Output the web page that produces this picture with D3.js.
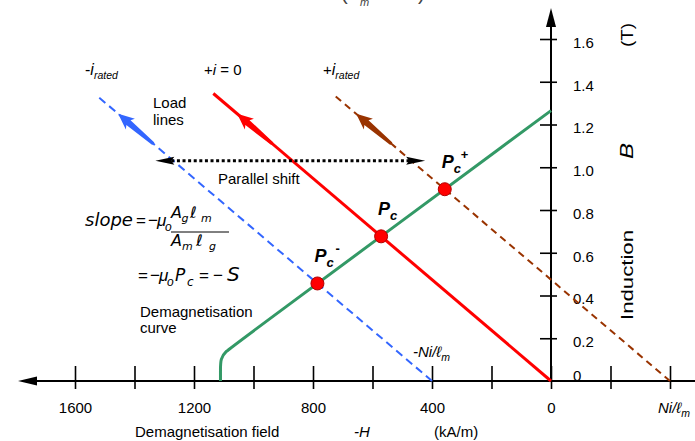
<!DOCTYPE html>
<html>
<head>
<meta charset="utf-8">
<script src="https://cdn.jsdelivr.net/npm/d3@7"></script>
<style>
  body { margin: 0; background: #fff; }
  svg { display: block; }
  text { font-family: "Liberation Sans", Arial, sans-serif; fill: #000; }
</style>
</head>
<body>
<svg id="chart" width="695" height="441"></svg>
<script>
// Demagnetising field H in kA/m (drawn positive to the left), induction B in tesla.
const hTicks = [1600, 1400, 1200, 1000, 800, 600, 400, 200, 0, -200, -400];
const hTickLabels = ["1600", "", "1200", "", "800", "", "400", "", "0", "", ""];
const bTicks = [0, 0.2, 0.4, 0.6, 0.8, 1.0, 1.2, 1.4, 1.6];
const bTickLabels = ["0", "0.2", "0.4", "0.6", "0.8", "1.0", "1.2", "1.4", "1.6"];

// Demagnetisation curve: straight recoil line, then a knee near the coercive field
const demagH = [0, 1060, 1094, 1111, 1111, 1111];
const demagB = [1.265, 0.173, 0.138, 0.105, 0.05, 0];
const demagRemanence = 1.265;      // B at H = 0 (T)
const demagSlope = 1.03e-3;        // T per kA/m along the straight part

// Load lines B = S (H - Ni/lm), shifted by the stator current
const loadSlope = 1.185e-3;        // S, T per kA/m
const loadKeys = ["minus", "zero", "plus"];
const loadOffsets = [400, 0, -400]; // H where each load line meets B = 0
const loadTopB = [1.34, 1.345, 1.34];
const pointNames = ["Pc-", "Pc", "Pc+"];

// Direction arrows on the load lines (B at tail and tip)
const arrowTailB = 1.11;
const arrowTipB = 1.25;

// Horizontal "parallel shift" double arrow
const shiftB = 1.03;
const shiftFromH = 1330;
const shiftToH = 423;

const lineStyle = {
  minus: { color: "#3366ff", width: 2, dash: "8,5" },
  zero:  { color: "#ff0000", width: 3, dash: null },
  plus:  { color: "#993300", width: 2, dash: "7,5" }
};
const demagColor = "#339966";

const svg = d3.select("#chart");

const x = d3.scaleLinear().domain([0, 1600]).range([551, 75]);
const y = d3.scaleLinear().domain([0, 1.6]).range([381, 39]);

// ---------- axes ----------
const xAxisG = svg.append("g").attr("transform", `translate(0,${y(0)})`)
  .call(d3.axisBottom(x).tickValues(hTicks)
    .tickFormat((d, i) => hTickLabels[i]).tickSize(8).tickPadding(13));
xAxisG.select(".domain").remove();
xAxisG.selectAll(".tick line").attr("y1", -15).attr("stroke", "#000").attr("stroke-width", 1.6);
xAxisG.selectAll(".tick text").attr("font-size", 15)
  .style("font-family", '"Liberation Sans", Arial, sans-serif');

const yAxisG = svg.append("g").attr("transform", `translate(${x(0)},0)`)
  .call(d3.axisRight(y).tickValues(bTicks)
    .tickFormat((d, i) => bTickLabels[i]).tickSize(6).tickPadding(16));
yAxisG.select(".domain").remove();
yAxisG.selectAll(".tick line").attr("x1", -11).attr("stroke", "#000").attr("stroke-width", 1.6)
  .filter(d => d === 0).remove();
yAxisG.selectAll(".tick text").attr("font-size", 15)
  .style("font-family", '"Liberation Sans", Arial, sans-serif')
  .attr("dy", d => d === 0 ? "-0.05em" : "0.55em");

// axis lines with arrowheads (-H to the left, B upward)
svg.append("line").attr("x1", 36).attr("x2", 695).attr("y1", y(0)).attr("y2", y(0))
  .attr("stroke", "#000").attr("stroke-width", 2);
svg.append("path").attr("d", `M18,${y(0)} L37,${y(0) - 4.5} L37,${y(0) + 4.5} Z`).attr("fill", "#000");
svg.append("line").attr("x1", x(0)).attr("x2", x(0)).attr("y1", y(0)).attr("y2", 25)
  .attr("stroke", "#000").attr("stroke-width", 2);
svg.append("path").attr("d", `M${x(0)},8 L${x(0) - 5},27 L${x(0) + 5},27 Z`).attr("fill", "#000");

// ---------- rich text helper (italic / sub / sup runs, optional own font) ----------
function rich(parent, px, py, parts, opt = {}) {
  const size = opt.size || 15;
  const t = parent.append("text").attr("x", px).attr("y", py).attr("font-size", size);
  if (opt.family) t.style("font-family", opt.family);
  if (opt.anchor) t.attr("text-anchor", opt.anchor);
  if (opt.fill) t.style("fill", opt.fill);
  let shift = 0;
  parts.forEach(p => {
    const [s, f = "", ax, fs, fam] = p;
    const sub = f.includes("_"), sup = f.includes("^");
    const target = sub ? size * 0.28 : sup ? -size * 0.5 : 0;
    const ts = t.append("tspan").text(s).attr("dy", target - shift);
    shift = target;
    if (ax !== undefined && ax !== null) ts.attr("x", ax);
    ts.attr("font-size", fs || ((sub || sup) ? size * (opt.subScale || 0.7) : size));
    if (fam) ts.style("font-family", fam);
    if (f.includes("i")) ts.attr("font-style", "italic");
    if (f.includes("b")) ts.attr("font-weight", "bold");
  });
  return t;
}

// ---------- demagnetisation curve ----------
const demag = demagH.map((h, i) => [h, demagB[i]]);
svg.append("path")
  .attr("d", d3.line().x(d => x(d[0])).y(d => y(d[1])).curve(d3.curveBasis)(demag))
  .attr("fill", "none").attr("stroke", demagColor).attr("stroke-width", 3);

// ---------- load lines ----------
const loads = loadKeys.map((k, i) => ({
  key: k, off: loadOffsets[i], topB: loadTopB[i], name: pointNames[i]
}));
const hOnLoad = (d, b) => d.off + b / loadSlope;

svg.selectAll(".load").data(loads).join("line")
  .attr("class", "load")
  .attr("x1", d => x(d.off)).attr("y1", y(0))
  .attr("x2", d => x(hOnLoad(d, d.topB))).attr("y2", d => y(d.topB))
  .attr("stroke", d => lineStyle[d.key].color)
  .attr("stroke-width", d => lineStyle[d.key].width)
  .attr("stroke-dasharray", d => lineStyle[d.key].dash);

// block arrows showing the direction along each load line
function arrowGeom(d) {
  const tx = x(hOnLoad(d, arrowTipB)), ty = y(arrowTipB);
  const sx = x(hOnLoad(d, arrowTailB)), sy = y(arrowTailB);
  return { tx, ty, L: Math.hypot(tx - sx, ty - sy), ang: Math.atan2(ty - sy, tx - sx) * 180 / Math.PI };
}
svg.selectAll(".dir").data(loads).join("path")
  .attr("class", "dir")
  .attr("d", d => {
    const L = arrowGeom(d).L;
    return `M0,0 L-16,-7 L-13.5,-3.2 L${-L},-1.6 L${-L},1.6 L-13.5,3.2 L-16,7 Z`;
  })
  .attr("transform", d => {
    const g = arrowGeom(d);
    return `translate(${g.tx},${g.ty}) rotate(${g.ang})`;
  })
  .attr("fill", d => lineStyle[d.key].color);

// ---------- parallel shift arrow ----------
const sy0 = y(shiftB);
svg.append("line").attr("x1", x(shiftFromH) + 16).attr("x2", x(shiftToH) - 16)
  .attr("y1", sy0).attr("y2", sy0)
  .attr("stroke", "#000").attr("stroke-width", 3).attr("stroke-dasharray", "3,2.6");
svg.append("path")
  .attr("d", `M${x(shiftFromH)},${sy0} L${x(shiftFromH) + 19},${sy0 - 4} L${x(shiftFromH) + 16},${sy0} L${x(shiftFromH) + 19},${sy0 + 4} Z`)
  .attr("fill", "#000");
svg.append("path")
  .attr("d", `M${x(shiftToH)},${sy0} L${x(shiftToH) - 19},${sy0 - 4} L${x(shiftToH) - 16},${sy0} L${x(shiftToH) - 19},${sy0 + 4} Z`)
  .attr("fill", "#000");

// ---------- operating points ----------
const pts = loads.map(d => {
  const h = (demagRemanence + loadSlope * d.off) / (loadSlope + demagSlope);
  return { h, b: loadSlope * (h - d.off), name: d.name };
});
svg.selectAll(".pt").data(pts).join("circle")
  .attr("class", "pt")
  .attr("cx", d => x(d.h)).attr("cy", d => y(d.b)).attr("r", 6.5)
  .attr("fill", "#ff0000").attr("stroke", "#b00000").attr("stroke-width", 1);

pts.forEach(d => {
  const px = x(d.h) - 3, py = y(d.b) - 21;
  const parts = [["P", "ib"], ["c", "ib_"]];
  if (d.name.endsWith("+")) parts.push(["+", "b^", px + 19]);
  if (d.name.endsWith("-")) parts.push(["-", "b^", px + 21]);
  rich(svg, px, py, parts, { size: 18, subScale: 0.72 });
});

// ---------- annotations ----------
rich(svg, 85, 75, [["-", "", null, 16], ["i", "i", null, 16], ["rated", "i_"]], { size: 15 });
rich(svg, 204, 75, [["+", ""], ["i", "i"], [" = 0", ""]], { size: 15 });
rich(svg, 323, 75, [["+", ""], ["i", "i", null, 16], ["rated", "i_"]], { size: 15 });

svg.append("text").attr("x", 153).attr("y", 108).attr("font-size", 15).text("Load");
svg.append("text").attr("x", 153).attr("y", 125).attr("font-size", 15).text("lines");
svg.append("text").attr("x", 218).attr("y", 184).attr("font-size", 15).text("Parallel shift");
svg.append("text").attr("x", 140).attr("y", 317).attr("font-size", 15).text("Demagnetisation");
svg.append("text").attr("x", 140).attr("y", 333).attr("font-size", 15).text("curve");

rich(svg, 413, 357, [["-Ni/ℓ", "i"], ["m", "i_"]], { size: 15 });
rich(svg, 658, 413, [["Ni/ℓ", "i"], ["m", "i_"]], { size: 15 });

// slope formula: letters in a wide sans, operators in the narrower one
const mathFont = '"DejaVu Sans", Verdana, sans-serif';
const opFont = '"Liberation Sans", Arial, sans-serif';
rich(svg, 85, 226, [
  ["slope", "i", 85], ["=", "", 136, 17, opFont], ["−", "", 148, 17, opFont],
  ["μ", "i", 157, 17, opFont], ["o", "i_", 165, 12, opFont]
], { size: 18, family: mathFont });
rich(svg, 171, 218, [
  ["A", "i", 171, 16], ["g", "i_", 181.5, 11], ["ℓ", "i", 190, 16], ["m", "i_", 201, 11]
], { size: 16, family: mathFont });
rich(svg, 171, 246, [
  ["A", "i", 171, 16], ["m", "i_", 182, 11], ["ℓ", "i", 196, 16], ["g", "i_", 209, 11]
], { size: 16, family: mathFont });
svg.append("line").attr("x1", 171).attr("x2", 229).attr("y1", 232).attr("y2", 232)
  .attr("stroke", "#000").attr("stroke-width", 1);
rich(svg, 137, 281, [
  ["=", "", 138, 17, opFont], ["−", "", 150, 17, opFont], ["μ", "i", 159, 17, opFont],
  ["o", "i_", 167, 12, opFont], ["P", "i", 175, 17], ["c", "i_", 187, 12],
  ["=", "", 199, 17, opFont], ["−", "", 213, 17, opFont], ["S", "i", 227, 20]
], { size: 17, family: mathFont });

// axis titles
svg.append("text").attr("x", 135).attr("y", 437).attr("font-size", 15).text("Demagnetisation field");
svg.append("text").attr("x", 354).attr("y", 437).attr("font-size", 15).attr("font-style", "italic").text("-H");
svg.append("text").attr("x", 434).attr("y", 437).attr("font-size", 15).text("(kA/m)");

const yTitle = [
  { t: "(T)", c: 35, len: 24, size: 17, style: "normal" },
  { t: "B", c: 151, len: 16, size: 18, style: "italic" },
  { t: "Induction", c: 275, len: 90, size: 16, style: "normal" }
];
svg.selectAll(".ytitle").data(yTitle).join("text")
  .attr("class", "ytitle")
  .attr("transform", d => `translate(633,${d.c}) rotate(-90)`)
  .attr("text-anchor", "middle")
  .attr("font-size", d => d.size)
  .attr("font-style", d => d.style)
  .attr("textLength", d => d.len)
  .attr("lengthAdjust", "spacingAndGlyphs")
  .text(d => d.t);

// bottom edge of the expression above the chart
rich(svg, 341, 0, [["(", "", 341], ["m", "i_", 360], [")", "", 418]],
  { size: 20, subScale: 0.55, fill: "#444" });
</script>
</body>
</html>
